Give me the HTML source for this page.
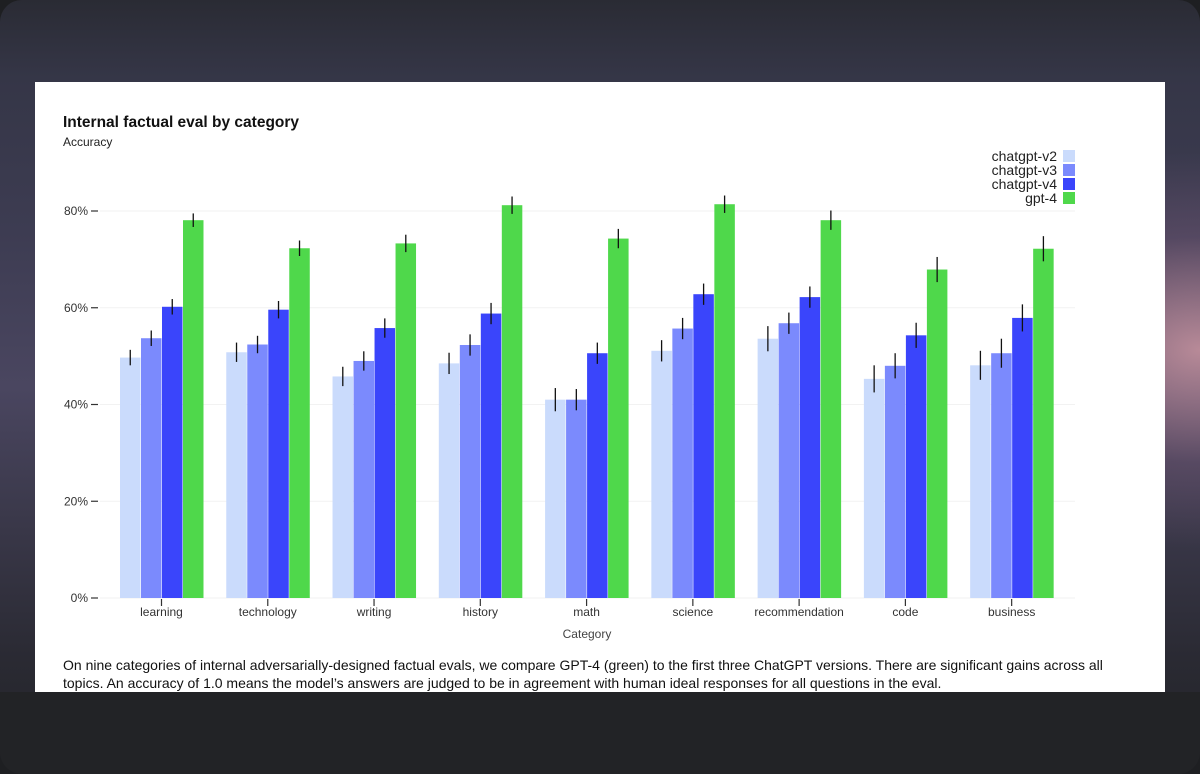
<!DOCTYPE html>
<html><head><meta charset="utf-8"><style>
html,body{margin:0;padding:0;width:1200px;height:774px;overflow:hidden;background:#1e1f22;font-family:"Liberation Sans",sans-serif}
#frame{position:absolute;left:0;top:0;width:1200px;height:774px;border-radius:22px;overflow:hidden;background:linear-gradient(180deg,#2a2b34 0%,#353647 10%,#3d3c52 30%,#4a4660 50%,#2a2a33 85%,#232427 100%)}
#glow{position:absolute;right:0;top:150px;width:300px;height:400px;background:radial-gradient(ellipse at right,#b88a98 0%,rgba(120,90,120,0.4) 40%,rgba(0,0,0,0) 70%)}
#bottom{position:absolute;left:0;top:692px;width:1200px;height:82px;background:#222326}
#card{position:absolute;left:35px;top:82px;width:1130px;height:610px;background:#fff}
svg text{font-family:"Liberation Sans",sans-serif}
</style></head><body>
<div id="frame">
<div id="glow"></div>
<div id="bottom"></div>
<div id="card"></div>
<svg id="chart" width="1200" height="774" style="position:absolute;left:0;top:0">
<text x="63" y="127" font-size="15.5" font-weight="bold" fill="#111">Internal factual eval by category</text>
<text x="63" y="146" font-size="12" fill="#222">Accuracy</text>
<text x="587" y="638" font-size="12" fill="#444" text-anchor="middle">Category</text>
<g id="grid"></g><g id="bars"></g><g id="axes"></g><g id="legend"></g>
</svg>
<div style="position:absolute;left:63px;top:656px;width:1070px;font-size:14px;line-height:18px;color:#111">On nine categories of internal adversarially-designed factual evals, we compare GPT-4 (green) to the first three ChatGPT versions. There are significant gains across all topics. An accuracy of 1.0 means the model’s answers are judged to be in agreement with human ideal responses for all questions in the eval.</div>
</div>
<script>
const categories=["learning","technology","writing","history","math","science","recommendation","code","business"];
const seriesNames=["chatgpt-v2","chatgpt-v3","chatgpt-v4","gpt-4"];
const v2=[49.7,50.8,45.8,48.5,41.0,51.1,53.6,45.3,48.1];
const v3=[53.7,52.4,49.0,52.3,41.0,55.7,56.8,48.0,50.6];
const v4=[60.2,59.6,55.8,58.8,50.6,62.8,62.2,54.3,57.9];
const g4=[78.1,72.3,73.3,81.2,74.3,81.4,78.1,67.9,72.2];
const err2=[1.6,2.0,2.0,2.2,2.4,2.2,2.6,2.8,3.0];
const err3=[1.6,1.8,2.0,2.2,2.2,2.2,2.2,2.6,3.0];
const err4=[1.6,1.8,2.0,2.2,2.2,2.2,2.2,2.6,2.8];
const errG=[1.4,1.6,1.8,1.8,2.0,1.8,2.0,2.6,2.6];
const yTicks=[0,20,40,60,80];
const colors=["#cadbfc","#7b8afd","#3a45fb","#4fd84b"];
const NS="http://www.w3.org/2000/svg";
function y(v){return 598-v*(598-211)/80;}
function xc(i){return 161.5+i*106.27;}
function mk(t,a,p){const e=document.createElementNS(NS,t);for(const k in a)e.setAttribute(k,a[k]);p.appendChild(e);return e;}
const grid=document.getElementById('grid'),bars=document.getElementById('bars'),axes=document.getElementById('axes'),leg=document.getElementById('legend');
yTicks.forEach(t=>{
 const l=mk('line',{x1:100,x2:1075,y1:y(t),y2:y(t),stroke:'#f2f2f2','stroke-width':1},grid);
 
 
 const tk=mk('line',{x1:91,x2:98,y1:y(t),y2:y(t),stroke:'#333','stroke-width':1.2},axes);
 
 
 const tx=mk('text',{x:88,y:y(t)+4,'font-size':12,fill:'#333','text-anchor':'end'},axes);
 tx.textContent=t+'%';
 
 
});
const vals=[v2,v3,v4,g4],errs=[err2,err3,err4,errG];
categories.forEach((c,i)=>{
 vals.forEach((s,j)=>{
  const x0=xc(i)-41.5+j*21;
  const r=mk('rect',{x:x0,y:y(s[i]),width:20.5,height:598-y(s[i]),fill:colors[j]},bars);
  
  
  const e=mk('line',{x1:x0+10.25,x2:x0+10.25,y1:y(s[i]+errs[j][i]),y2:y(s[i]-errs[j][i]),stroke:'#111','stroke-width':1.3},bars);
  
  
 });
 const tk=mk('line',{x1:xc(i),x2:xc(i),y1:599,y2:606,stroke:'#333','stroke-width':1.2},axes);
 
 
 const tx=mk('text',{x:xc(i),y:616,'font-size':12,fill:'#333','text-anchor':'middle'},axes);
 tx.textContent=c;
 
 
});
seriesNames.forEach((n,j)=>{
 const yy=150+j*14;
 const r=mk('rect',{x:1063,y:yy,width:12,height:12,fill:colors[j]},leg);
 
 
 const t=mk('text',{x:1057,y:yy+11,'font-size':14,fill:'#222','text-anchor':'end'},leg);
 t.textContent=n;
 
 
});
</script>
</body></html>
